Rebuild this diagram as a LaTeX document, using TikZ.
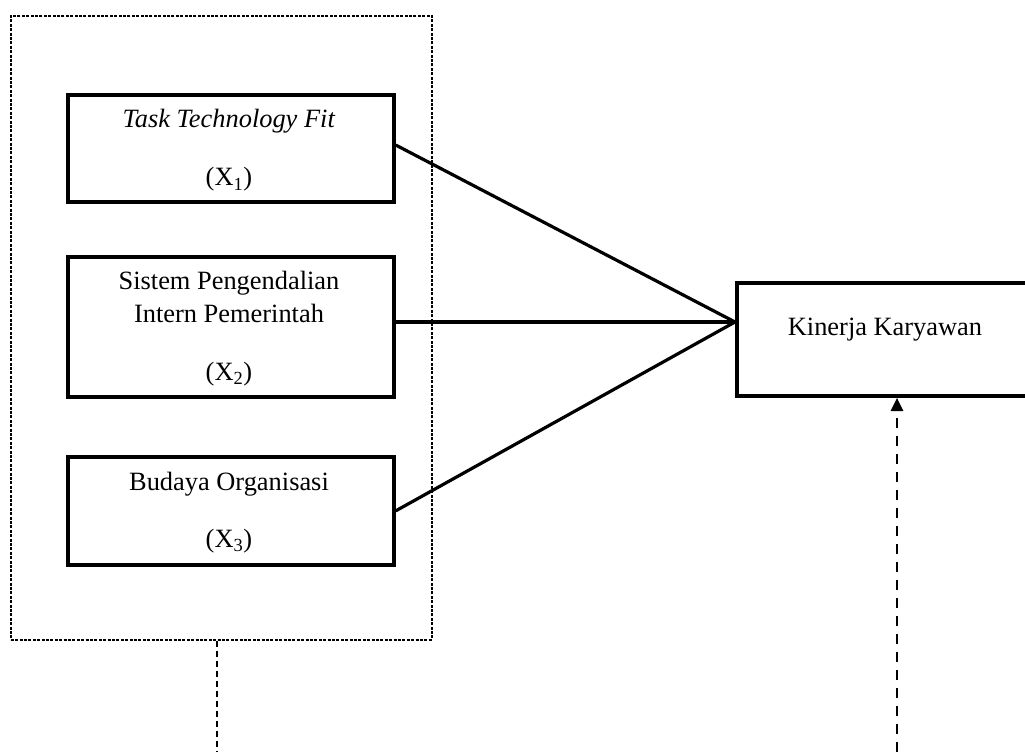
\documentclass[tikz,border=0pt]{standalone}
\usepackage{fontspec}
\setmainfont{Liberation Serif}
\usetikzlibrary{arrows.meta}
\begin{document}
\begin{tikzpicture}[x=0.75pt,y=-0.75pt,
  varbox/.style={draw=black,line width=2.8pt,minimum width=326*0.75pt,inner sep=0pt,anchor=north west},
  lbl/.style={anchor=base,font=\fontsize{19.8pt}{23pt}\selectfont,inner sep=0pt},
  conn/.style={line width=2.4pt},
  groupbox/.style={draw=black,line width=1.2pt,dash pattern=on 2.2pt off 1.1pt,anchor=north west,inner sep=0pt}]
\useasboundingbox (0,0) rectangle (1025,752);
\clip (0,0) rectangle (1025,752);
% outer dotted group box
\node[groupbox,minimum width=421*0.75pt,minimum height=624*0.75pt] (grp) at (10,15) {};
% variable boxes
\node[varbox,minimum height=107*0.75pt] (b1) at (66,93) {};
\node[varbox,minimum height=140*0.75pt] (b2) at (66,255) {};
\node[varbox,minimum height=108*0.75pt] (b3) at (66,455) {};
\node[varbox,minimum width=300*0.75pt,minimum height=113*0.75pt] (kin) at (735,281) {};
% labels
\node[lbl] (t1a) at (229,128) {\textit{Task Technology Fit}};
\node[lbl] (t1b) at (229,186) {(X\textsubscript{1})};
\node[lbl] (t2a) at (229,290) {Sistem Pengendalian};
\node[lbl] (t2b) at (229,323) {Intern Pemerintah};
\node[lbl] (t2c) at (229,380) {(X\textsubscript{2})};
\node[lbl] (t3a) at (229,490) {Budaya Organisasi};
\node[lbl] (t3b) at (229,547) {(X\textsubscript{3})};
\node[lbl] (tk) at (885,335) {Kinerja Karyawan};
% connectors
\coordinate (conv) at (735,322);
\draw[conn] ([yshift=2.5pt]b1.east) -- (conv);
\draw[conn] (conv -| b2.east) -- (conv);
\draw[conn] (b3.east) -- (conv);
% dashed lines
\coordinate (ds) at (897,752);
\draw[line width=2.2pt,dash pattern=on 7.5pt off 6pt,-{Triangle[width=9pt,length=10pt]}] (ds) -- (ds |- kin.south);
\coordinate (ls) at (217,752);
\draw[line width=0.8pt,dash pattern=on 4.5pt off 3pt] (ls |- grp.south) -- (ls);
\end{tikzpicture}
\end{document}
